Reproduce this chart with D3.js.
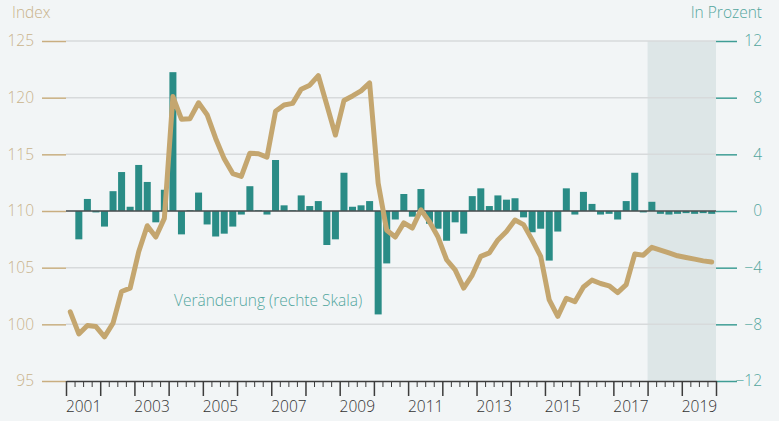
<!DOCTYPE html>
<html>
<head>
<meta charset="utf-8">
<script src="https://cdn.jsdelivr.net/npm/d3@7"></script>
<style>
  html, body { margin: 0; padding: 0; background: #f2f5f6; }
  svg { display: block; font-family: "Open Sans", "Lato", sans-serif; font-weight: 300; }
</style>
</head>
<body>
<div id="chart"></div>
<script>
// quarters 2001Q1 .. 2019Q4
const years = d3.range(2001, 2020);
const quarters = years.flatMap(y => [1, 2, 3, 4].map(q => y + "Q" + q));

// index (left axis)
const indexValues = [
  101.1, 99.15, 99.9, 99.8, 98.9, 100.1, 102.9, 103.2,
  106.4, 108.7, 107.7, 109.35, 120.1, 118.1, 118.15, 119.55,
  118.5, 116.4, 114.6, 113.3, 113.05, 115.1, 115.05, 114.75,
  118.8, 119.35, 119.5, 120.75, 121.1, 121.95, 119.35, 116.7,
  119.75, 120.15, 120.6, 121.3, 112.45, 108.3, 107.7, 108.95,
  108.5, 110.1, 109.05, 107.7, 105.7, 104.8, 103.2, 104.35,
  106.0, 106.3, 107.45, 108.2, 109.2, 108.8, 107.45, 106.0,
  102.15, 100.7, 102.3, 102.0, 103.3, 103.9, 103.6, 103.4,
  102.8, 103.5, 106.2, 106.1, 106.8, 106.55, 106.3, 106.05,
  105.9, 105.75, 105.6, 105.5
];

// change in percent (right axis)
const changeValues = [
  null, -2.0, 0.85, -0.1, -1.1, 1.4, 2.75, 0.3,
  3.25, 2.05, -0.8, 1.5, 9.8, -1.65, 0.05, 1.3,
  -0.95, -1.8, -1.6, -1.1, -0.25, 1.75, 0.05, -0.25,
  3.6, 0.4, 0.05, 1.1, 0.35, 0.7, -2.4, -2.0,
  2.7, 0.3, 0.4, 0.7, -7.3, -3.7, -0.6, 1.2,
  -0.4, 1.55, -0.9, -1.25, -2.1, -0.8, -1.6, 1.05,
  1.6, 0.35, 1.1, 0.8, 0.9, -0.45, -1.5, -1.25,
  -3.5, -1.45, 1.6, -0.25, 1.35, 0.5, -0.25, -0.2,
  -0.6, 0.7, 2.7, -0.1, 0.65, -0.2, -0.25, -0.2,
  -0.15, -0.2, -0.15, -0.2
];

const leftTicks = [95, 100, 105, 110, 115, 120, 125];
const rightTicks = [-12, -8, -4, 0, 4, 8, 12];
const labelYears = [2001, 2003, 2005, 2007, 2009, 2011, 2013, 2015, 2017, 2019];
const forecastStart = 2018;

const width = 779, height = 421;
const plotLeft = 66, plotRight = 716, plotTop = 41, plotBottom = 381;
const fontSize = "15.5px";

const svg = d3.select("#chart").append("svg")
  .attr("width", width)
  .attr("height", height);

svg.append("rect").attr("width", width).attr("height", height).attr("fill", "#f2f5f6");

const xBand = d3.scaleBand().domain(quarters).range([plotLeft, plotRight])
  .paddingInner(0.18).paddingOuter(0.09);
const xYear = d3.scaleLinear().domain([2001, 2020]).range([plotLeft, plotRight]);
const yLeft = d3.scaleLinear().domain([95, 125]).range([plotBottom, plotTop]);
const yRight = d3.scaleLinear().domain([-12, 12]).range([plotBottom, plotTop]);

// forecast shading
svg.append("rect")
  .attr("x", xYear(forecastStart))
  .attr("y", plotTop)
  .attr("width", xYear(2020) - xYear(forecastStart))
  .attr("height", plotBottom - plotTop)
  .attr("fill", "#dde6e7");

// gridlines
svg.append("g")
  .selectAll("line")
  .data(leftTicks.filter(d => d !== 95))
  .join("line")
  .attr("x1", plotLeft).attr("x2", plotRight)
  .attr("y1", d => yLeft(d)).attr("y2", d => yLeft(d))
  .attr("stroke", "#d7dadb")
  .attr("stroke-width", 1.5);

// left axis
const leftAxis = svg.append("g")
  .attr("transform", "translate(" + plotLeft + ",0)")
  .call(d3.axisLeft(yLeft).tickValues(leftTicks).tickSize(24).tickPadding(8));
leftAxis.select(".domain").remove();
leftAxis.selectAll(".tick line").attr("stroke", "#c9ae80").attr("stroke-width", 1.5);
leftAxis.selectAll(".tick text").attr("fill", "#c9b38b").style("font-size", fontSize)
  .style("font-family", "'Open Sans', Lato, sans-serif");

// right axis
const rightAxis = svg.append("g")
  .attr("transform", "translate(" + plotRight + ",0)")
  .call(d3.axisRight(yRight).tickValues(rightTicks).tickSize(21).tickPadding(8));
rightAxis.select(".domain").remove();
rightAxis.selectAll(".tick line").attr("stroke", "#3f9d95").attr("stroke-width", 1.5);
rightAxis.selectAll(".tick text").attr("fill", "#52a69e").style("font-size", fontSize)
  .style("font-family", "'Open Sans', Lato, sans-serif")
  .attr("text-anchor", "end")
  .attr("x", 46);

// bars
svg.append("g")
  .selectAll("rect")
  .data(quarters.map((q, i) => ({ q: q, v: changeValues[i] })).filter(d => d.v !== null))
  .join("rect")
  .attr("x", d => xBand(d.q))
  .attr("width", xBand.bandwidth())
  .attr("y", d => yRight(Math.max(0, d.v)))
  .attr("height", d => Math.abs(yRight(d.v) - yRight(0)))
  .attr("fill", "#2a8c86");

// zero line
svg.append("line")
  .attr("x1", plotLeft).attr("x2", plotRight)
  .attr("y1", yRight(0)).attr("y2", yRight(0))
  .attr("stroke", "#4a4f50")
  .attr("stroke-width", 1.5);

// index line
const line = d3.line()
  .x((d, i) => xBand(quarters[i]) + xBand.bandwidth() / 2)
  .y(d => yLeft(d));

svg.append("path")
  .datum(indexValues)
  .attr("d", line)
  .attr("fill", "none")
  .attr("stroke", "#c4a66f")
  .attr("stroke-width", 5)
  .attr("stroke-linejoin", "round")
  .attr("stroke-linecap", "round");

// x axis: minor (quarters), major (years), labels
const qTicks = d3.range(2001, 2020.01, 0.25).filter(d => d % 1 !== 0);
const minorAxis = svg.append("g")
  .attr("transform", "translate(0," + plotBottom + ")")
  .call(d3.axisBottom(xYear).tickValues(qTicks).tickSize(6).tickFormat(""));
minorAxis.select(".domain").remove();
minorAxis.selectAll(".tick line").attr("stroke", "#3c3c3c").attr("stroke-width", 1);

const majorAxis = svg.append("g")
  .attr("transform", "translate(0," + plotBottom + ")")
  .call(d3.axisBottom(xYear).tickValues(d3.range(2001, 2021)).tickSize(15).tickSizeOuter(0).tickFormat(""));
majorAxis.select(".domain").attr("stroke", "#3c3c3c").attr("stroke-width", 1.5);
majorAxis.selectAll(".tick line").attr("stroke", "#3c3c3c").attr("stroke-width", 1.5);

const labelAxis = svg.append("g")
  .attr("transform", "translate(0," + plotBottom + ")")
  .call(d3.axisBottom(xYear).tickValues(labelYears.map(y => y + 0.5)).tickSize(0).tickPadding(20)
    .tickFormat(d => Math.floor(d)));
labelAxis.select(".domain").remove();
labelAxis.selectAll(".tick text").attr("fill", "#333").style("font-size", fontSize)
  .style("font-family", "'Open Sans', Lato, sans-serif");

// axis titles
svg.append("text")
  .attr("x", 12).attr("y", 18)
  .attr("fill", "#c9b38b")
  .style("font-size", fontSize)
  .text("Index");

svg.append("text")
  .attr("x", 762).attr("y", 18)
  .attr("text-anchor", "end")
  .attr("fill", "#52a69e")
  .style("font-size", fontSize)
  .text("In Prozent");

svg.append("text")
  .attr("x", 174).attr("y", 306)
  .attr("fill", "#52a69e")
  .style("font-size", fontSize)
  .text("Veränderung (rechte Skala)");
</script>
</body>
</html>
